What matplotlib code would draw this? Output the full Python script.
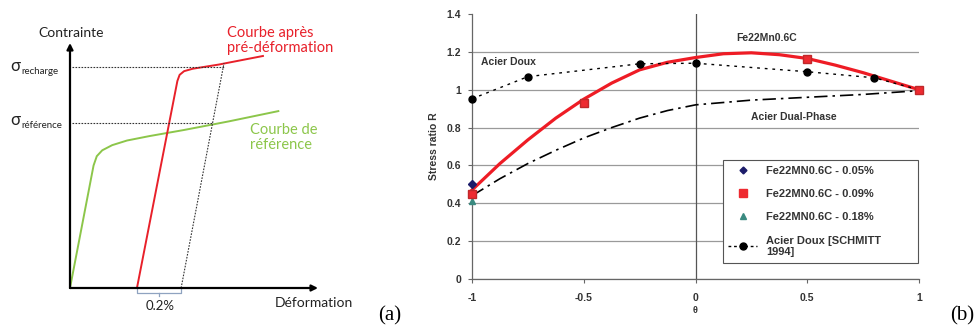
import matplotlib
matplotlib.use("Agg")
import matplotlib.pyplot as plt
from matplotlib.lines import Line2D

# ---------------- data: panel (a) schematic ----------------
ref_strain = [0.0, 0.95, 1.08, 1.3, 1.7, 2.3, 3.2, 4.6, 6.4, 8.4]
ref_stress = [0.0, 5.0, 5.38, 5.62, 5.83, 6.02, 6.2, 6.45, 6.8, 7.22]
pre_strain = [2.7, 4.33, 4.42, 4.6, 4.95, 6.0, 7.78]
pre_stress = [0.0, 8.45, 8.7, 8.85, 8.95, 9.12, 9.47]
offset_strain = [4.48, 6.21]
offset_stress = [0.0, 9.18]
sigma_recharge = 9.02
sigma_reference = 6.73
x_recharge_end = 6.21
x_reference_end = 5.75

# ---------------- data: panel (b) ----------------
theta_doux = [-1, -0.75, -0.25, 0, 0.5, 0.8, 1]
R_doux = [0.952, 1.069, 1.137, 1.14, 1.095, 1.063, 1.0]
theta_005 = [-1, 1]
R_005 = [0.50, 1.0]
theta_009 = [-1, -0.5, 0.5, 1]
R_009 = [0.45, 0.93, 1.16, 1.0]
theta_018 = [-1, 1]
R_018 = [0.41, 1.0]
theta_fit = [-1, -0.875, -0.75, -0.625, -0.5, -0.375, -0.25, -0.125, 0, 0.125, 0.25, 0.375, 0.5, 0.625, 0.75, 0.875, 1]
R_fit = [0.47, 0.61, 0.735, 0.85, 0.95, 1.035, 1.105, 1.145, 1.17, 1.19, 1.195, 1.185, 1.165, 1.13, 1.09, 1.045, 1.0]
theta_dp = [-1, -0.875, -0.75, -0.625, -0.5, -0.375, -0.25, -0.125, 0, 0.25, 0.5, 0.75, 1]
R_dp = [0.44, 0.53, 0.61, 0.68, 0.745, 0.80, 0.85, 0.89, 0.92, 0.945, 0.96, 0.975, 0.995]
yticks = [0, 0.2, 0.4, 0.6, 0.8, 1, 1.2, 1.4]
xticks = [-1, -0.5, 0, 0.5, 1]

W, H = 980, 333
fig = plt.figure(figsize=(9.8, 3.33), dpi=100)
fig.patch.set_facecolor('white')

def fx(px):
    return px / W

def fy(py):
    return 1 - py / H

# ---------------- panel (a) ----------------
RED = '#e8202a'
GREEN = '#8cc64a'
sans = ['Lato', 'DejaVu Sans']
dot = (0, (1.5, 1.2))
axa = fig.add_axes([fx(70), fy(288), (318 - 70) / W, (288 - 43) / H])
axa.set_xlim(0, 10)
axa.set_ylim(0, 10)
axa.axis('off')
axa.plot(ref_strain, ref_stress, color=GREEN, lw=1.4, clip_on=False, solid_joinstyle='round')
axa.plot(pre_strain, pre_stress, color=RED, lw=1.4, clip_on=False, solid_joinstyle='round')
axa.plot(offset_strain, offset_stress, color='#333333', lw=0.8, ls=dot, clip_on=False)
axa.plot([0.08, x_recharge_end], [sigma_recharge] * 2, color='#333333', lw=0.8, ls=dot, clip_on=False)
axa.plot([0.08, x_reference_end], [sigma_reference] * 2, color='#333333', lw=0.8, ls=dot, clip_on=False)
axa.annotate('', xy=(0, 10), xytext=(0, 0),
             arrowprops=dict(arrowstyle='-|>', color='black', lw=1.6, mutation_scale=9, shrinkA=0, shrinkB=0))
axa.annotate('', xy=(10, 0), xytext=(0, 0),
             arrowprops=dict(arrowstyle='-|>', color='black', lw=1.6, mutation_scale=9, shrinkA=0, shrinkB=0))
# bracket 0.2%
bc = '#8fa3c0'
axa.plot([pre_strain[0], pre_strain[0], offset_strain[0], offset_strain[0]], [-0.05, -0.22, -0.22, -0.05],
         color=bc, lw=0.9, clip_on=False)
axa.plot([3.6, 3.6], [-0.22, -0.32], color=bc, lw=0.9, clip_on=False)
axa.text(3.63, -0.75, '0.2%', ha='center', va='center', fontsize=9.5, family=sans, color='#222222')
axa.text(0.05, 10.4, 'Contrainte', ha='center', va='center', fontsize=10, family=sans, color='#222222')
axa.text(9.85, -0.62, 'Déformation', ha='center', va='center', fontsize=10, family=sans, color='#222222')
axa.text(6.35, 10.12, 'Courbe après\npré-déformation', ha='left', va='center', fontsize=10.5,
         family=sans, color=RED, linespacing=1.1)
axa.text(7.25, 6.16, 'Courbe de\nréférence', ha='left', va='center', fontsize=10.5,
         family=sans, color=GREEN, linespacing=1.1)
fig.text(fx(10), fy(66), 'σ', fontsize=12, family=sans, color='#222222', va='center', ha='left')
fig.text(fx(21), fy(71), 'recharge', fontsize=7, family=sans, color='#222222', va='center', ha='left')
fig.text(fx(10), fy(120), 'σ', fontsize=12, family=sans, color='#222222', va='center', ha='left')
fig.text(fx(21), fy(125), 'référence', fontsize=7, family=sans, color='#222222', va='center', ha='left')
fig.text(fx(390), fy(316), '(a)', fontsize=15, family='Liberation Serif', ha='center', va='center')
fig.text(fx(962), fy(316), '(b)', fontsize=15, family='Liberation Serif', ha='center', va='center')

# ---------------- panel (b) ----------------
bf = dict(family='Liberation Sans', fontweight='bold', color='#333333')
FS = 7.5
axb = fig.add_axes([fx(472), fy(279), (919 - 472) / W, (279 - 14) / H])
axb.set_xlim(-1, 1)
axb.set_ylim(0, 1.4)
axb.set_xticks(xticks)
axb.set_xticklabels([f'{t:g}' for t in xticks])
axb.set_yticks(yticks)
axb.set_yticklabels([f'{t:g}' for t in yticks])
for lab in axb.get_xticklabels() + axb.get_yticklabels():
    lab.set_fontfamily('Liberation Sans')
    lab.set_fontweight('bold')
    lab.set_fontsize(FS)
    lab.set_color('#333333')
axb.tick_params(axis='both', length=3, width=0.8, color='#666666')
axb.tick_params(axis='x', pad=7)
axb.tick_params(axis='y', pad=5)
for s in ['top', 'right']:
    axb.spines[s].set_visible(False)
for s in ['left', 'bottom']:
    axb.spines[s].set_color('#666666')
    axb.spines[s].set_linewidth(0.9)
axb.set_axisbelow(True)
axb.yaxis.grid(True, color='#9a9a9a', lw=0.9)
axb.yaxis.get_gridlines()[-1].set_visible(False)
axb.axvline(0, color='#555555', lw=0.9, zorder=1)
axb.set_ylabel('Stress ratio R', fontsize=FS, labelpad=5, **bf)
axb.set_xlabel('θ', fontsize=6.5, labelpad=2, **bf)

axb.plot(theta_dp, R_dp, color='black', lw=1.2, ls=(0, (8, 3, 1.5, 3)), zorder=2)
axb.plot(theta_fit, R_fit, color='#ee1c25', lw=2.3, zorder=3, clip_on=False)
axb.plot(theta_doux, R_doux, color='black', lw=1.0, ls=(0, (2, 3.5)), marker='o', ms=5,
         zorder=4, clip_on=False)
axb.plot(theta_018, R_018, ls='none', marker='^', ms=5, color='#3a8a80', zorder=5, clip_on=False)
axb.plot(theta_009, R_009, ls='none', marker='s', ms=6, color='#ee2a30', mec='#c0282a', zorder=5, clip_on=False)
axb.plot(theta_005, R_005, ls='none', marker='D', ms=4, color='#1c1c6a', zorder=4, clip_on=False)

axb.text(-0.96, 1.148, 'Acier Doux', fontsize=FS, ha='left', va='center', **bf)
axb.text(0.32, 1.275, 'Fe22Mn0.6C', fontsize=FS, ha='center', va='center', **bf)
axb.text(0.44, 0.857, 'Acier Dual-Phase', fontsize=FS, ha='center', va='center', **bf)

handles = [
    Line2D([], [], ls='none', marker='D', ms=3.5, color='#1c1c6a'),
    Line2D([], [], ls='none', marker='s', ms=5.5, color='#ee2a30'),
    Line2D([], [], ls='none', marker='^', ms=4.5, color='#3a8a80'),
    Line2D([], [], color='black', lw=1.0, ls=(0, (2, 2)), marker='o', ms=5),
]
labels = ['Fe22MN0.6C - 0.05%', 'Fe22MN0.6C - 0.09%', 'Fe22MN0.6C - 0.18%', 'Acier Doux [SCHMITT\n1994]']
leg = axb.legend(handles, labels, loc='upper left', bbox_to_anchor=(0.561, 0.449, 0.437, 0.0),
                 mode='expand',
                 frameon=True, fancybox=False, framealpha=1, edgecolor='#555555',
                 prop=dict(family='Liberation Sans', weight='bold', size=8),
                 handlelength=2.6, labelspacing=1.2, borderpad=0.5, handletextpad=0.8,
                 borderaxespad=0)
leg.get_frame().set_linewidth(0.8)
for t in leg.get_texts():
    t.set_color('#333333')

fig.savefig('out.png', dpi=100, facecolor='white')
